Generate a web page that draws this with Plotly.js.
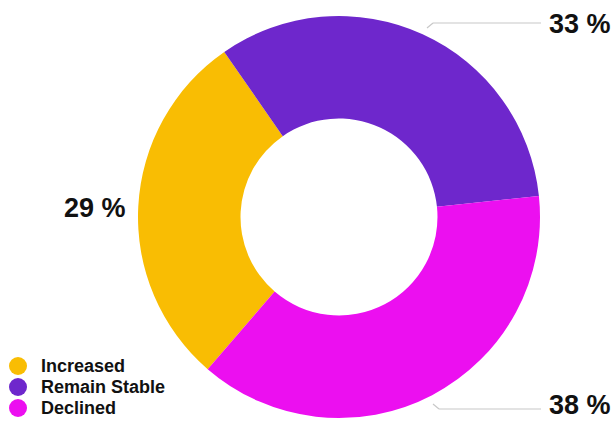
<!DOCTYPE html>
<html>
<head>
<meta charset="utf-8">
<script src="https://cdn.plot.ly/plotly-3.0.1.min.js"></script>
<style>html,body{margin:0;padding:0;background:#fff;}#chart{width:615px;height:422px;}</style>
</head>
<body>
<div id="chart"></div>
<script>
var categories = ["Increased", "Remain Stable", "Declined"];
var values = [29, 33, 38];
var colors = ["#F9BD03", "#6E27CC", "#EC0FF0"];

var W = 615, H = 422;
function px(x){ return x / W; }
function py(y){ return 1 - y / H; }

var FONT = "Liberation Sans, Arial, Helvetica, sans-serif";

var traces = [{
  type: "pie",
  labels: categories,
  values: values,
  sort: false,
  direction: "clockwise",
  rotation: 220.8,
  hole: 0.49,
  textinfo: "none",
  hoverinfo: "label+percent",
  marker: { colors: colors, line: { width: 0 } },
  showlegend: false,
  domain: { x: [px(339 - 201), px(339 + 201)], y: [py(217 + 201), py(217 - 201)] }
}];

// label placement (order: Increased, Remain Stable, Declined)
var labelPos = [
  { x: 95, y: 208, line: null },
  { x: 580, y: 24, line: [[427, 28], [433, 23], [541, 23]] },
  { x: 580, y: 405, line: [[433, 404], [439, 409], [541, 409]] }
];

var annotations = [];
var shapes = [];
values.forEach(function(v, i){
  var p = labelPos[i];
  annotations.push({
    xref: "paper", yref: "paper", x: px(p.x), y: py(p.y),
    xanchor: "center", yanchor: "middle", showarrow: false,
    text: v + " %",
    font: { family: FONT, size: 27, color: "#111", weight: "bold" }
  });
  if (p.line) {
    for (var k = 0; k < p.line.length - 1; k++) {
      shapes.push({
        type: "line", xref: "paper", yref: "paper",
        x0: px(p.line[k][0]), y0: py(p.line[k][1]),
        x1: px(p.line[k+1][0]), y1: py(p.line[k+1][1]),
        line: { color: "#C8C8C8", width: 1.2 }
      });
    }
  }
});

// custom legend (circle markers + bold labels)
var legendX = 18, legendTextX = 39, legendY0 = 366, legendStep = 21, dotR = 9;
categories.forEach(function(c, i){
  var yy = legendY0 + i * legendStep;
  shapes.push({
    type: "circle", xref: "paper", yref: "paper",
    xsizemode: "pixel", ysizemode: "pixel",
    xanchor: px(legendX), yanchor: py(yy),
    x0: -dotR, x1: dotR, y0: -dotR, y1: dotR,
    fillcolor: colors[i], line: { width: 0 }
  });
  annotations.push({
    xref: "paper", yref: "paper", x: px(legendTextX), y: py(yy),
    xanchor: "left", yanchor: "middle", showarrow: false,
    text: c,
    font: { family: FONT, size: 18, color: "#111", weight: "bold" }
  });
});

var layout = {
  width: W, height: H,
  margin: { l: 0, r: 0, t: 0, b: 0 },
  paper_bgcolor: "#fff", plot_bgcolor: "#fff",
  showlegend: false,
  annotations: annotations,
  shapes: shapes
};

Plotly.newPlot("chart", traces, layout, { displayModeBar: false, staticPlot: true });
</script>
</body>
</html>
